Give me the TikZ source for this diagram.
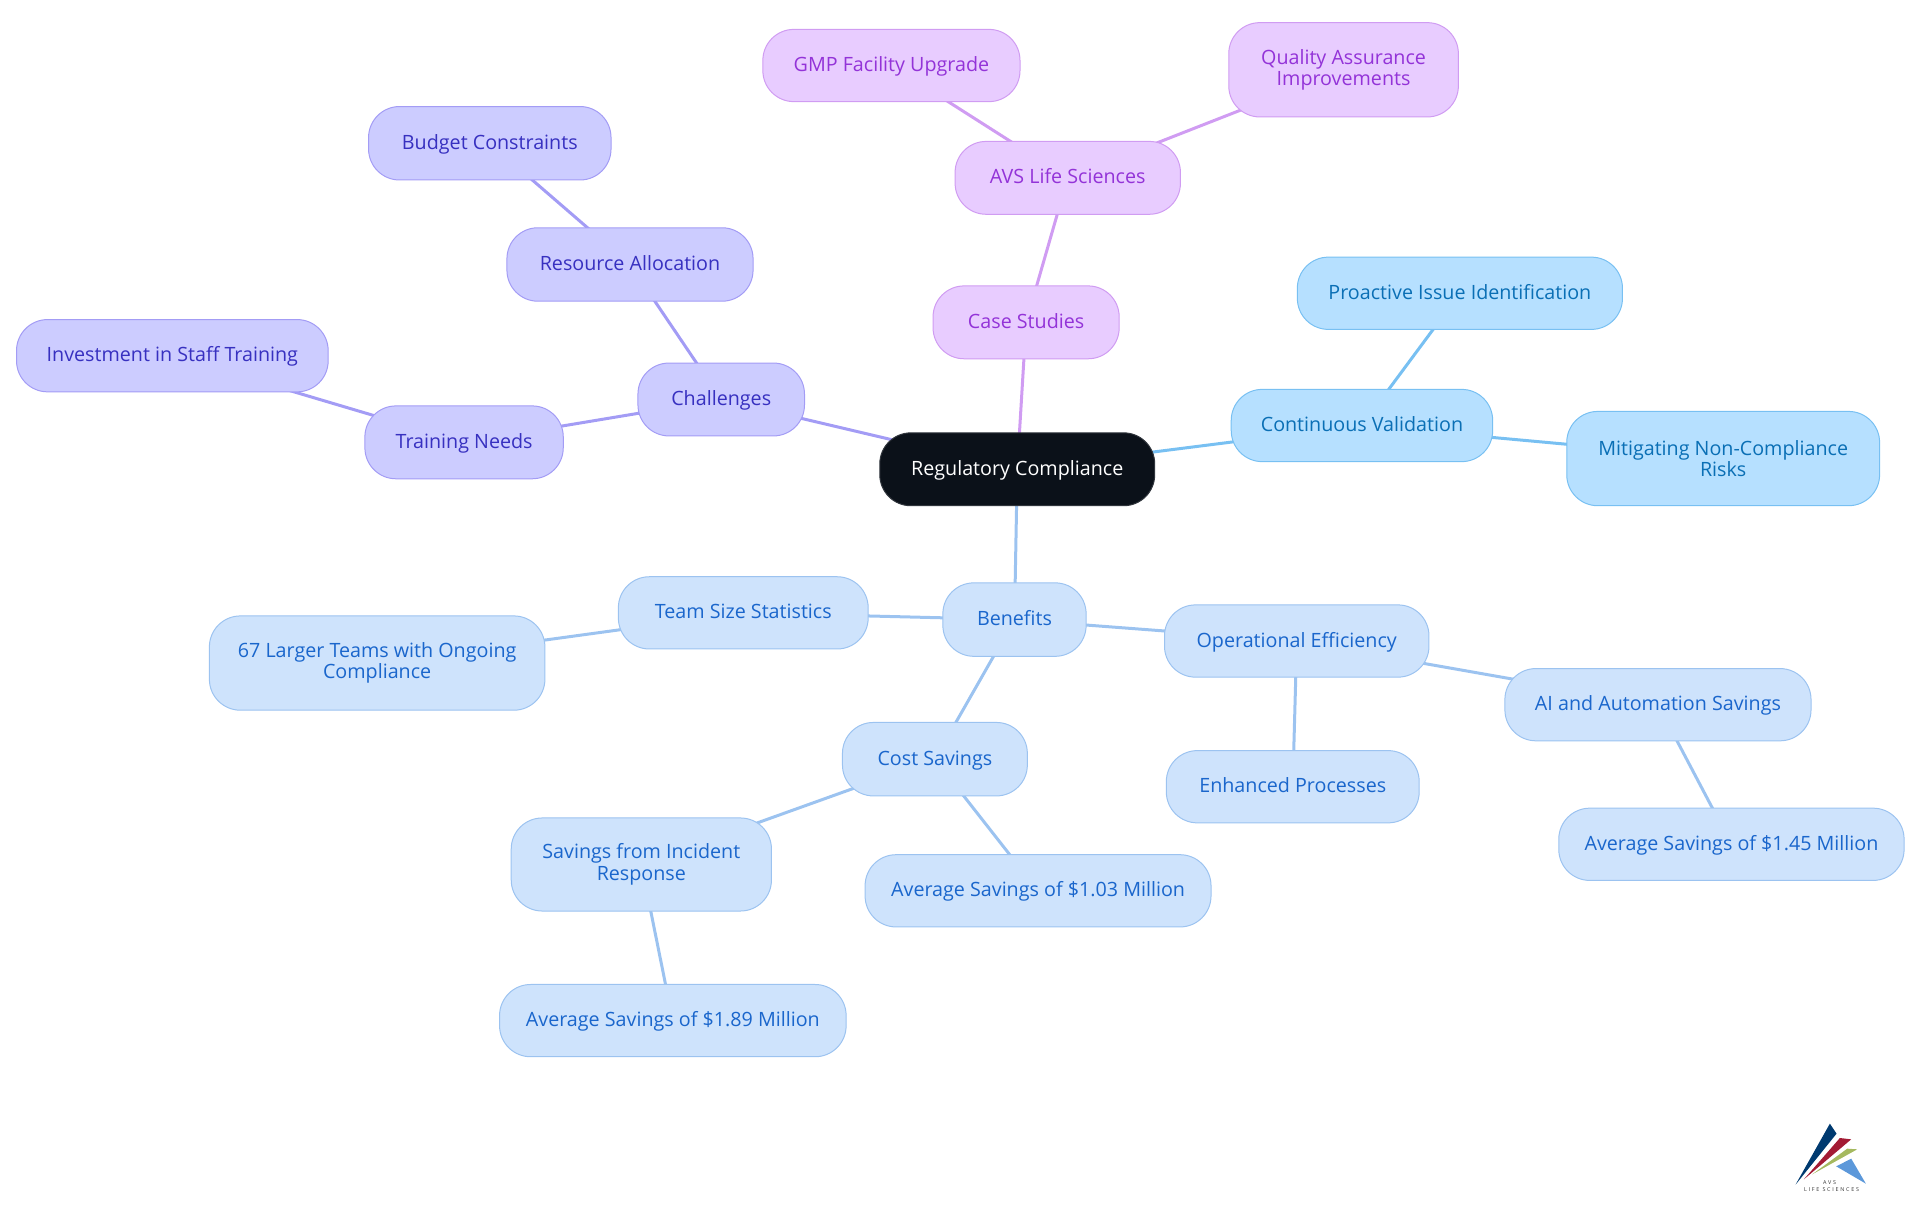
\documentclass[tikz,border=0pt]{standalone}
\usepackage{fontspec}
\setmainfont{Open Sans}
\newfontfamily\logofont[LetterSpace=32]{Open Sans}
\usetikzlibrary{backgrounds}
\definecolor{rootfill}{HTML}{0B1119}
\definecolor{vfill}{HTML}{CCCCFF}\definecolor{vline}{HTML}{A39CF5}\definecolor{vtext}{HTML}{3730C0}
\definecolor{pfill}{HTML}{E8CCFF}\definecolor{pline}{HTML}{D09CF2}\definecolor{ptext}{HTML}{9333D8}
\definecolor{cfill}{HTML}{B6E0FF}\definecolor{cline}{HTML}{78C0F2}\definecolor{ctext}{HTML}{0A6FB5}
\definecolor{bfill}{HTML}{CEE3FC}\definecolor{bline}{HTML}{9CC3F0}\definecolor{btext}{HTML}{1A66CC}
\tikzset{
  box/.style={rectangle,rounded corners=15.5pt,align=center,inner sep=0pt,line width=0.5pt,
    text height=7.6pt,text depth=1.5pt,
    font=\fontsize{9.85pt}{10.75pt}\selectfont},
  twolines/.style={text height=,text depth=},
  root/.style={box,fill=rootfill,draw=rootfill!85!white,text=white},
  vbox/.style={box,fill=vfill,draw=vline,text=vtext},
  pbox/.style={box,fill=pfill,draw=pline,text=ptext},
  cbox/.style={box,fill=cfill,draw=cline,text=ctext},
  bbox/.style={box,fill=bfill,draw=bline,text=btext},
  vlink/.style={draw=vline,line width=1.5pt},
  plink/.style={draw=pline,line width=1.5pt},
  clink/.style={draw=cline,line width=1.5pt},
  blink/.style={draw=bline,line width=1.5pt},
}
% \nb{style}{name}{x0}{y0}{x1}{y1}{text}
\newcommand{\nb}[7]{%
  \pgfmathsetmacro{\cxx}{(#3+#5)/2}\pgfmathsetmacro{\cyy}{(#4+#6)/2}%
  \pgfmathsetlengthmacro{\ww}{(#5-#3)*0.6122pt}\pgfmathsetlengthmacro{\hh}{(#6-#4)*0.6122pt}%
  \node[#1,minimum width=\ww,minimum height=\hh] (#2) at (\cxx,\cyy) {#7};}
\begin{document}
\begin{tikzpicture}[x=0.6122pt,y=-0.6122pt]
\useasboundingbox (0,0) rectangle (1568,992.2);
\nb{root}{reg}{718.5}{353.5}{943}{413}{Regulatory Compliance}
\nb{vbox}{chal}{521}{296.5}{657}{356}{Challenges}
\nb{vbox}{res}{414}{186}{615}{246}{Resource Allocation}
\nb{vbox}{bud}{301}{87}{499}{147}{Budget Constraints}
\nb{vbox}{train}{298}{331.5}{460}{391}{Training Needs}
\nb{vbox}{inv}{13.5}{261}{268}{320}{Investment in Staff Training}
\nb{pbox}{case}{762}{233.5}{914}{293}{Case Studies}
\nb{pbox}{avs}{780}{115.5}{964}{175}{AVS Life Sciences}
\nb{pbox}{gmp}{623}{24}{833}{83}{GMP Facility Upgrade}
\nb{pbox,twolines}{qa}{1003.5}{18.5}{1191}{95.5}{Quality Assurance\\Improvements}
\nb{cbox}{cont}{1005.5}{318}{1219}{377}{Continuous Validation}
\nb{cbox}{pro}{1059.5}{210}{1325}{269}{Proactive Issue Identification}
\nb{cbox,twolines}{mit}{1279.5}{336}{1535}{413}{Mitigating Non-Compliance\\Risks}
\nb{bbox}{ben}{770}{476}{887}{536}{Benefits}
\nb{bbox}{team}{505}{471}{709}{530}{Team Size Statistics}
\nb{bbox,twolines}{larg}{171}{503}{445}{580}{67 Larger Teams with Ongoing\\Compliance}
\nb{bbox}{op}{951}{494}{1167}{553}{Operational Efficiency}
\nb{bbox}{enh}{952.5}{613}{1159}{672}{Enhanced Processes}
\nb{bbox}{ai}{1229}{546}{1479}{605}{AI and Automation Savings}
\nb{bbox}{avga}{1273}{660}{1555}{719}{Average Savings of \$1.45 Million}
\nb{bbox}{cost}{688}{590}{839}{650}{Cost Savings}
\nb{bbox,twolines}{inc}{417.5}{668}{630}{744}{Savings from Incident\\Response}
\nb{bbox}{avgb}{706.5}{698}{989}{757}{Average Savings of \$1.03 Million}
\nb{bbox}{avgc}{408}{804}{691}{863}{Average Savings of \$1.89 Million}
\begin{pgfonlayer}{background}
\draw[vlink] (reg.center)--(chal.center) (chal.center)--(res.center) (res.center)--(bud.center) (chal.center)--(train.center) (train.center)--(inv.center);
\draw[plink] (reg.center)--(case.center) (case.center)--(avs.center) (avs.center)--(gmp.center) (avs.center)--(qa.center);
\draw[clink] (reg.center)--(cont.center) (cont.center)--(pro.center) (cont.center)--(mit.center);
\draw[blink] (reg.center)--(ben.center) (ben.center)--(team.center) (team.center)--(larg.center) (ben.center)--(op.center) (op.center)--(enh.center) (op.center)--(ai.center) (ai.center)--(avga.center) (ben.center)--(cost.center) (cost.center)--(inc.center) (cost.center)--(avgb.center) (inc.center)--(avgc.center);
\end{pgfonlayer}
% logo, in reference pixels
\begin{scope}[x=0.1667pt,y=-0.1667pt,shift={(5220,3270)}]
\fill[fill={rgb,255:red,0;green,58;blue,112}] (165,283)--(268,100)--(288,130)--cycle;
\fill[fill={rgb,255:red,163;green,27;blue,52}] (190,267)--(298,143)--(332,147)--cycle;
\fill[fill={rgb,255:red,165;green,185;blue,95}] (215,252)--(320,175)--(350,177)--cycle;
\fill[fill={rgb,255:red,92;green,152;blue,218}] (287,228)--(332,205)--(376,280)--cycle;
\node[inner sep=0pt,text=black!80,font=\logofont\fontsize{2.7pt}{2.9pt}\selectfont] (logoa) at (267,278) {AVS};
\node[inner sep=0pt,text=black!80,font=\logofont\fontsize{2.7pt}{2.9pt}\selectfont] (logob) at (273,297) {LIFE SCIENCES};
\end{scope}
\end{tikzpicture}
\end{document}
